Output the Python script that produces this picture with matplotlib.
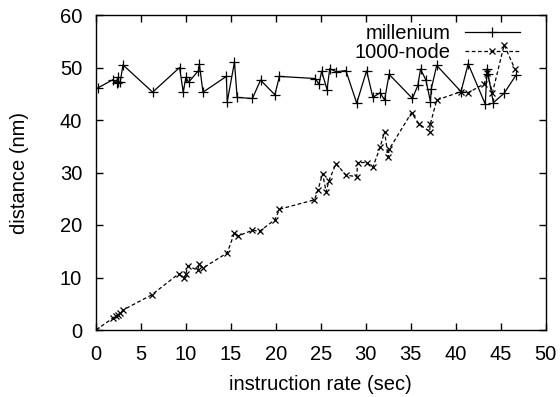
import numpy as np
import matplotlib
matplotlib.use('Agg')
import matplotlib.pyplot as plt

plt.rcParams['font.family'] = ['Liberation Sans', 'DejaVu Sans']

# millenium series (instruction rate, distance)
mill_x = [0.2, 1.9, 2.3, 2.4, 2.5, 2.7, 3.0, 6.3, 9.3, 9.7, 10.0, 10.3,
          11.4, 11.5, 11.9, 14.5, 14.6, 15.4, 15.7, 17.4, 18.3, 19.9, 20.4,
          24.4, 24.8, 25.1, 25.7, 26.0, 26.7, 27.8, 29.0, 30.1, 30.8, 31.6,
          32.1, 32.6, 35.2, 35.8, 36.1, 36.7, 37.2, 37.3, 37.9, 40.6, 41.4,
          43.3, 43.5, 43.6, 44.2, 45.4, 46.7]
mill_y = [46.1, 47.7, 47.0, 48.1, 47.2, 47.3, 50.5, 45.3, 50.0, 45.3, 48.1, 47.2,
          49.4, 50.6, 45.3, 48.3, 43.5, 51.0, 44.3, 44.1, 47.6, 44.8, 48.3,
          47.9, 46.8, 49.3, 45.8, 49.8, 49.2, 49.4, 43.2, 49.4, 44.3, 45.2,
          43.8, 48.7, 44.1, 46.6, 49.7, 47.6, 43.5, 46.0, 50.4, 45.4, 50.7,
          43.0, 49.7, 48.8, 43.3, 45.1, 48.5]

# 1000-node series
node_x = [0.0, 1.9, 2.2, 2.5, 2.7, 3.0, 6.2, 9.2, 9.8, 10.0, 10.2, 11.3,
          11.5, 11.9, 14.6, 15.4, 15.8, 17.4, 18.2, 19.9, 20.4, 24.3, 24.7,
          25.2, 25.6, 25.9, 26.7, 27.8, 29.0, 29.1, 30.1, 30.8, 31.6, 32.1,
          32.5, 32.6, 35.1, 35.9, 37.1, 37.2, 37.9, 40.6, 41.4, 43.2, 43.5,
          44.1, 45.4, 46.6]
node_y = [0.0, 2.3, 2.7, 2.9, 3.2, 3.8, 6.7, 10.7, 9.9, 10.7, 12.2, 11.4,
          12.5, 11.8, 14.7, 18.5, 17.9, 19.0, 18.8, 21.0, 23.0, 24.8, 26.7,
          29.8, 26.3, 28.4, 31.7, 29.5, 29.2, 31.9, 31.9, 31.0, 34.8, 37.8,
          32.9, 34.4, 41.4, 39.3, 37.8, 39.3, 43.8, 45.4, 45.2, 46.9, 48.9,
          45.2, 54.3, 49.7]

x_ticks = np.arange(0, 51, 5)
y_ticks = np.arange(0, 61, 10)

fs = 14.5

fig = plt.figure(figsize=(5.6, 3.97), dpi=100)
ax = fig.add_axes([96 / 560, 67 / 397, 449.5 / 560, 315 / 397])

ax.plot(mill_x, mill_y, color='black', lw=0.9, marker='+', ms=6.5, mew=0.9,
        label='millenium')
ax.plot(node_x, node_y, color='black', lw=0.9, ls=(0, (3, 2)), marker='x',
        ms=5, mew=0.9, label='1000-node')

ax.set_xlim(0, 50)
ax.set_ylim(0, 60)
ax.set_xticks(x_ticks)
ax.set_yticks(y_ticks)
ax.tick_params(direction='in', length=5, width=1, top=True, right=True,
               labelsize=fs)
ax.tick_params(axis='x', pad=11)
ax.tick_params(axis='y', pad=10)
for s in ax.spines.values():
    s.set_linewidth(1)

ax.set_xlabel('instruction rate (sec)', fontsize=fs, labelpad=8)
ax.set_ylabel('distance (nm)', fontsize=fs, labelpad=22)

ax.legend(loc='upper right', frameon=False, markerfirst=False, fontsize=fs,
          handlelength=2.74, handletextpad=0.7, labelspacing=0.0,
          borderaxespad=0, borderpad=0, numpoints=1,
          bbox_to_anchor=(0.943, 0.970))

fig.savefig('out.png', dpi=100)
